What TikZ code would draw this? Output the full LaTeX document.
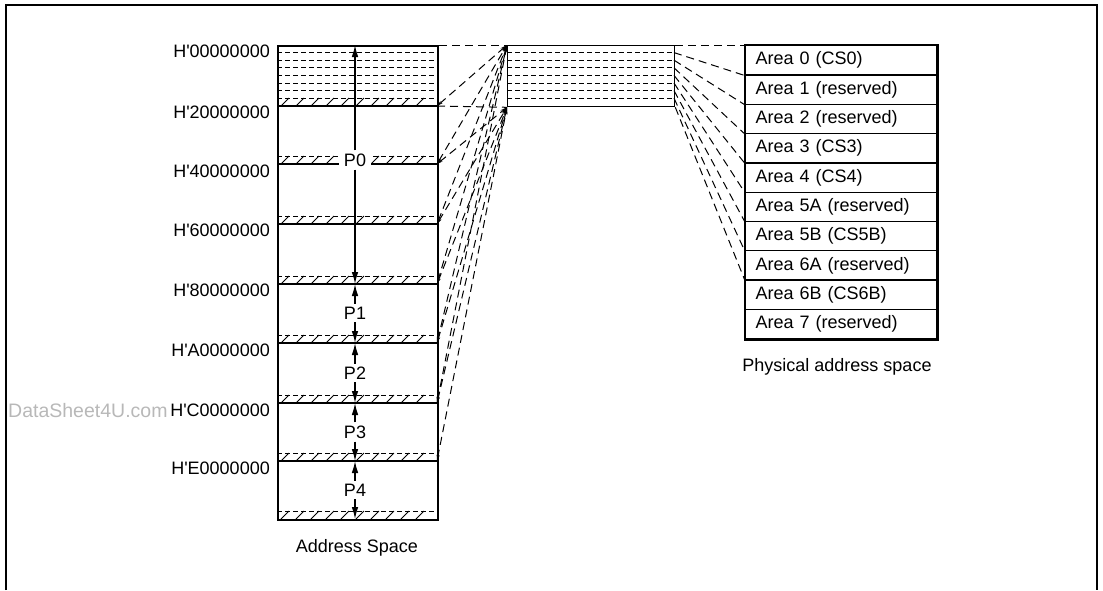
\documentclass[tikz,border=0pt]{standalone}
\usepackage{fontspec}
\setmainfont{Liberation Sans}
\usetikzlibrary{arrows.meta}
\begin{document}
\begin{tikzpicture}[x=1pt,y=-1pt,
  txt/.style={font=\fontsize{18}{20}\selectfont, inner sep=0pt},
  addr/.style={txt, anchor=east},
  outline/.style={line width=2.4pt},
  sep/.style={line width=1.3pt},
  fine/.style={line width=1pt},
  idash/.style={line width=1pt, dash pattern=on 5pt off 3pt},
  conn/.style={line width=1pt, dash pattern=on 8pt off 5pt},
  mapconn/.style={conn, {Stealth[length=6pt,width=3pt]}-{Stealth[length=7pt,width=3.5pt]}},
  parr/.style={line width=1.2pt, -{Latex[length=12pt,width=6.5pt]}},
  plabel/.style={txt, fill=white, inner xsep=5pt, inner ysep=3pt},
  rowbox/.style={txt, draw, sep, minimum width=191pt, minimum height=29.3pt,
     text width=171pt, inner xsep=10pt, align=left, anchor=north west},
]
\useasboundingbox (0,0) rectangle (1103,590);
% outer frame
\draw[line width=2pt] (6,590) -- (6,5) -- (1097,5) -- (1097,590);
% watermark
\node[font=\fontsize{19.5}{22}\selectfont, text=black!28, anchor=west, inner sep=0pt] (wm) at (8,411) {DataSheet4U.com};

% boundary y values
\def\bnd{{45,106,164,224,284,343,403,461,519}}
% --- address space box ---
\node[draw, outline, minimum width=160pt, minimum height=474pt, inner sep=0pt, anchor=north west] (as) at (277,45) {};
\foreach \k in {0,...,8}{
  \pgfmathsetmacro{\yy}{\bnd[\k]}
  \coordinate (L\k) at (437,\yy);
  \coordinate (A\k) at (355,\yy);
  \coordinate (W\k) at (277,\yy);
}
% dashed lines in the first region (areas)
\foreach \j in {1,...,7}{
  \draw[idash] (277,{45+7.6*\j}) -- (437,{45+7.6*\j});
}
% hatch strips and solid boundary lines
\foreach \k in {1,...,8}{
  \pgfmathsetmacro{\yy}{\bnd[\k]}
  \ifnum\k>1 \draw[idash] (277,\yy-8) -- (437,\yy-8);\fi
  \foreach \x in {281,296,...,425}{
    \draw[fine] (\x,\yy) -- (\x+8,\yy-8);
  }
}
\foreach \k in {1,...,7}{
  \draw[sep] (W\k) -- (L\k);
}
% address labels
\node[addr] (h0) at (270,51) {H\textquotesingle 00000000};
\node[addr] (h1) at (270,112) {H\textquotesingle 20000000};
\node[addr] (h2) at (270,171) {H\textquotesingle 40000000};
\node[addr] (h3) at (270,230) {H\textquotesingle 60000000};
\node[addr] (h4) at (270,290) {H\textquotesingle 80000000};
\node[addr] (h5) at (270,350) {H\textquotesingle A0000000};
\node[addr] (h6) at (270,410) {H\textquotesingle C0000000};
\node[addr] (h7) at (270,468) {H\textquotesingle E0000000};
% P arrows
\node[plabel] (p0) at (355,160) {P0};
\node[plabel] (p1) at (355,313) {P1};
\node[plabel] (p2) at (355,373) {P2};
\node[plabel] (p3) at (355,432) {P3};
\node[plabel] (p4) at (355,490) {P4};
\draw[parr] (p0) -- (A0);
\draw[parr] (p0) -- (A4);
\draw[parr] (p1) -- (A4);
\draw[parr] (p1) -- (A5);
\draw[parr] (p2) -- (A5);
\draw[parr] (p2) -- (A6);
\draw[parr] (p3) -- (A6);
\draw[parr] (p3) -- (A7);
\draw[parr] (p4) -- (A7);
\draw[parr] (p4) -- (A8);
\node[txt] (ascap) at (357,548) {Address Space};

% --- middle (mapped region) box ---
\node[draw, sep, minimum width=167pt, minimum height=61pt, inner sep=0pt, anchor=north west] (mid) at (507,45) {};
\foreach \j in {1,...,7}{
  \draw[idash] (507,{45+7.6*\j}) -- (674,{45+7.6*\j});
  \coordinate (M\j) at (674,{45+7.6*\j});
}
\coordinate (M8) at (mid.south east);
% connectors address space -> middle
\draw[conn] (as.north east) -- (mid.north west);
\draw[conn] (L1) -- (mid.south west);
\foreach \k in {1,...,6}{
  \draw[mapconn] (L\k) -- (mid.north west);
}
\foreach \k in {2,...,7}{
  \draw[mapconn] (L\k) -- (mid.south west);
}

% --- physical address space ---
\node[rowbox] (r0) at (745,45) {Area 0 (CS0)};
\node[rowbox] (r1) at (745,74.3) {Area 1 (reserved)};
\node[rowbox] (r2) at (745,103.6) {Area 2 (reserved)};
\node[rowbox] (r3) at (745,132.9) {Area 3 (CS3)};
\node[rowbox] (r4) at (745,162.2) {Area 4 (CS4)};
\node[rowbox] (r5) at (745,191.5) {Area 5A (reserved)};
\node[rowbox] (r6) at (745,220.8) {Area 5B (CS5B)};
\node[rowbox] (r7) at (745,250.1) {Area 6A (reserved)};
\node[rowbox] (r8) at (745,279.4) {Area 6B (CS6B)};
\node[rowbox] (r9) at (745,308.7) {Area 7 (reserved)};
\draw[outline] (r0.north west) rectangle (r9.south east);
\node[txt] (pcap) at (837,367) {Physical address space};
% connectors middle -> physical
\draw[conn] (mid.north east) -- (r0.north west);
\foreach \j in {1,...,8}{
  \pgfmathtruncatemacro{\i}{\j-1}
  \draw[conn] (M\j) -- (r\i.south west);
}
\end{tikzpicture}
\end{document}
